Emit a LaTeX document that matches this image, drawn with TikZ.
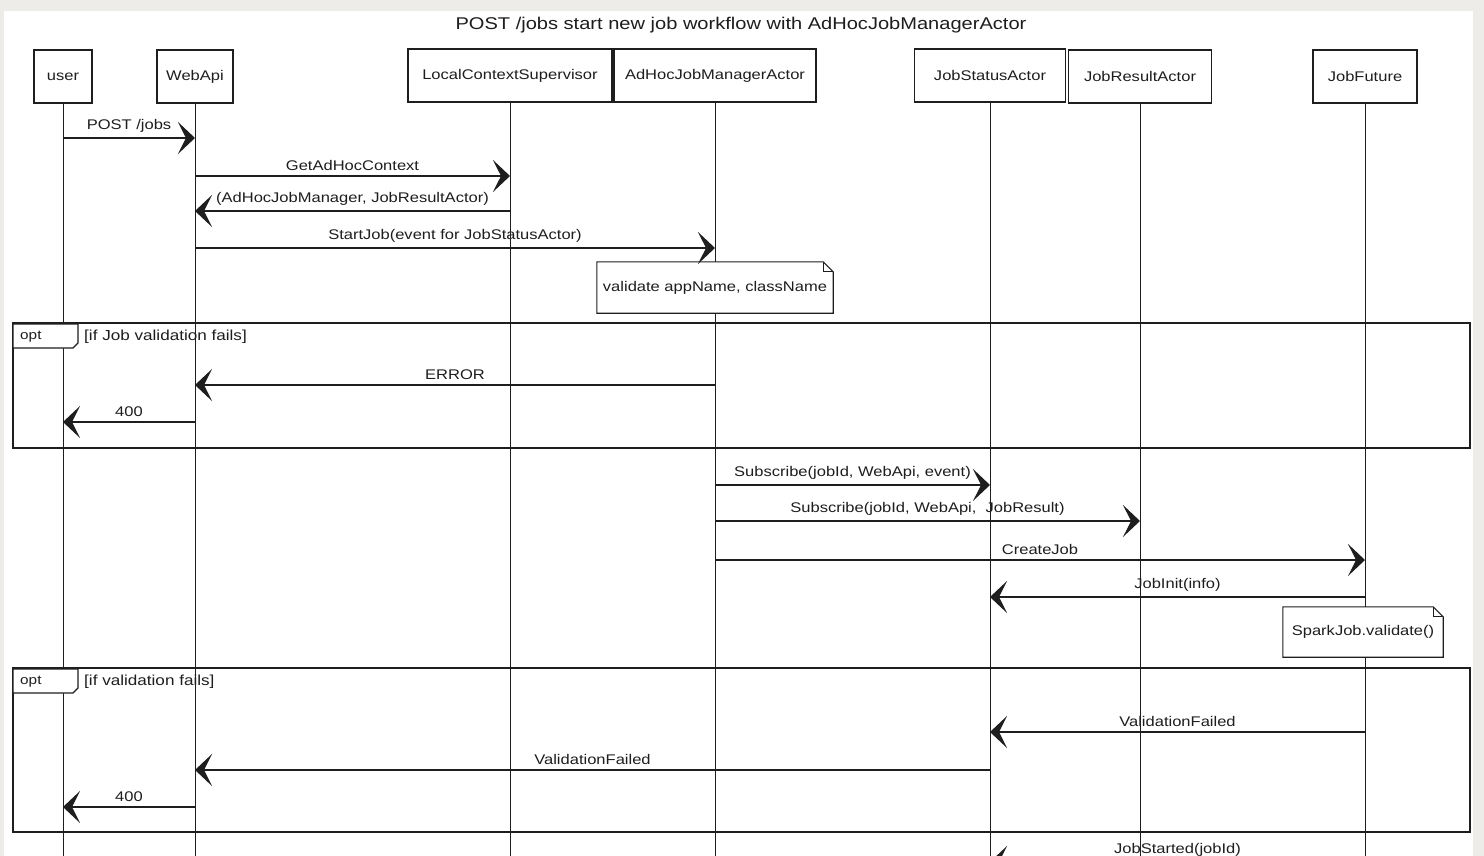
\documentclass[tikz,border=0pt]{standalone}
\usepackage{fontspec}
\setmainfont[FakeStretch=1.18]{Liberation Sans}
\usetikzlibrary{arrows.meta}
\definecolor{pagebg}{RGB}{238,236,232}
\definecolor{ink}{RGB}{30,30,30}
\begin{document}
\begin{tikzpicture}[x=1pt,y=-1pt,
  actor/.style={draw=ink, line width=1.1pt, fill=white, minimum height=53pt, inner sep=0pt,
    font=\fontsize{14}{16}\selectfont, text=ink},
  life/.style={draw=ink, line width=0.8pt},
  msg/.style={draw=ink, line width=1.5pt, -{Stealth[length=17pt,width=32pt,inset=8pt]}},
  lbl/.style={font=\fontsize{14}{16}\selectfont, text=ink, above=5pt, inner sep=0pt},
  framebox/.style={draw=ink, line width=1.4pt},
  tagbox/.style={draw=ink, line width=1.1pt, fill=white},
  tagtxt/.style={font=\fontsize{13}{15}\selectfont, text=ink, anchor=west, inner sep=0pt},
  condtxt/.style={font=\fontsize{14.5}{16}\selectfont, text=ink, anchor=west, inner sep=0pt},
  notebg/.style={fill=white, inner sep=0pt, font=\fontsize{14}{16}\selectfont, text=ink},
  noteline/.style={draw=ink, line width=1.1pt}
]
\useasboundingbox (0,0) rectangle (1484,856);
\clip (0,0) rectangle (1484,856);
\fill[pagebg] (0,0) rectangle (1484,856);
\fill[white] (4,11) rectangle (1473,856);

% title
\node[font=\fontsize{17}{20}\selectfont, text=ink] (title) at (741,25) {POST /jobs start new job workflow with AdHocJobManagerActor};

% participants
\node[actor, minimum width=58pt]  (user)  at (63,76.5)   {user};
\node[actor, minimum width=76pt]  (webapi) at (195,76.5) {WebApi};
\node[actor, minimum width=204pt] (lcs)   at (510,75.5)  {LocalContextSupervisor};
\node[actor, minimum width=202pt] (adhoc) at (715,75.5)  {AdHocJobManagerActor};
\node[actor, minimum width=151pt] (jstat) at (990,75.5)  {JobStatusActor};
\node[actor, minimum width=143pt] (jres)  at (1140,76.5) {JobResultActor};
\node[actor, minimum width=104pt] (jfut)  at (1365,76.5) {JobFuture};

\coordinate (bottom) at (0,870);
\foreach \p in {user,webapi,lcs,adhoc,jstat,jres,jfut}
  \draw[life] (\p.south) -- (\p |- bottom);

% message rows
\coordinate (m1) at (0,138);
\coordinate (m2) at (0,176);
\coordinate (m3) at (0,211);
\coordinate (m4) at (0,248);
\coordinate (m7) at (0,385);
\coordinate (m8) at (0,422);
\coordinate (m9) at (0,485);
\coordinate (m10) at (0,521);
\coordinate (m11) at (0,560);
\coordinate (m12) at (0,597);
\coordinate (m15) at (0,732);
\coordinate (m16) at (0,770);
\coordinate (m17) at (0,807);
\coordinate (m18) at (0,862);

% notes
\node[notebg, minimum width=236pt, minimum height=51pt] (note1) at (715,287.5) {validate appName, className};
\draw[noteline] (note1.north west) -- ([xshift=-10pt]note1.north east) -- ([yshift=-10pt]note1.north east) -- (note1.south east) -- (note1.south west) -- cycle;
\draw[noteline, line width=0.8pt] ([xshift=-10pt]note1.north east) -- ([xshift=-10pt,yshift=-10pt]note1.north east) -- ([yshift=-10pt]note1.north east);

\node[notebg, minimum width=160pt, minimum height=50pt] (note2) at (1363,632) {SparkJob.validate()};
\draw[noteline] (note2.north west) -- ([xshift=-10pt]note2.north east) -- ([yshift=-10pt]note2.north east) -- (note2.south east) -- (note2.south west) -- cycle;
\draw[noteline, line width=0.8pt] ([xshift=-10pt]note2.north east) -- ([xshift=-10pt,yshift=-10pt]note2.north east) -- ([yshift=-10pt]note2.north east);

% frames
\draw[framebox] (13,323) rectangle (1470,448);
\draw[tagbox] (13,324) -- (78,324) -- (78,343) -- (73,348) -- (13,348) -- cycle;
\node[tagtxt] (opt1) at (20,337) {opt};
\node[condtxt] (cond1) at (84,337) {[if Job validation fails]};

\draw[framebox] (13,668) rectangle (1470,832);
\draw[tagbox] (13,669) -- (78,669) -- (78,688) -- (73,693) -- (13,693) -- cycle;
\node[tagtxt] (opt2) at (20,682) {opt};
\node[condtxt] (cond2) at (84,682) {[if validation fails]};

% messages
\draw[msg] (user |- m1) -- (webapi |- m1) node[lbl, midway] {POST /jobs};
\draw[msg] (webapi |- m2) -- (lcs |- m2) node[lbl, midway] {GetAdHocContext};
\draw[msg] (lcs |- m3) -- (webapi |- m3) node[lbl, midway] {(AdHocJobManager, JobResultActor)};
\draw[msg] (webapi |- m4) -- (adhoc |- m4) node[lbl, midway] {StartJob(event for JobStatusActor)};
\draw[msg] (adhoc |- m7) -- (webapi |- m7) node[lbl, midway] {ERROR};
\draw[msg] (webapi |- m8) -- (user |- m8) node[lbl, midway] {400};
\draw[msg] (adhoc |- m9) -- (jstat |- m9) node[lbl, midway] {Subscribe(jobId, WebApi, event)};
\draw[msg] (adhoc |- m10) -- (jres |- m10) node[lbl, midway] {Subscribe(jobId, WebApi,\ \ JobResult)};
\draw[msg] (adhoc |- m11) -- (jfut |- m11) node[lbl, midway] {CreateJob};
\draw[msg] (jfut |- m12) -- (jstat |- m12) node[lbl, midway] {JobInit(info)};
\draw[msg] (jfut |- m15) -- (jstat |- m15) node[lbl, midway] {ValidationFailed};
\draw[msg] (jstat |- m16) -- (webapi |- m16) node[lbl, midway] {ValidationFailed};
\draw[msg] (webapi |- m17) -- (user |- m17) node[lbl, midway] {400};
\draw[msg] (jfut |- m18) -- (jstat |- m18) node[lbl, midway] {JobStarted(jobId)};
\end{tikzpicture}
\end{document}
